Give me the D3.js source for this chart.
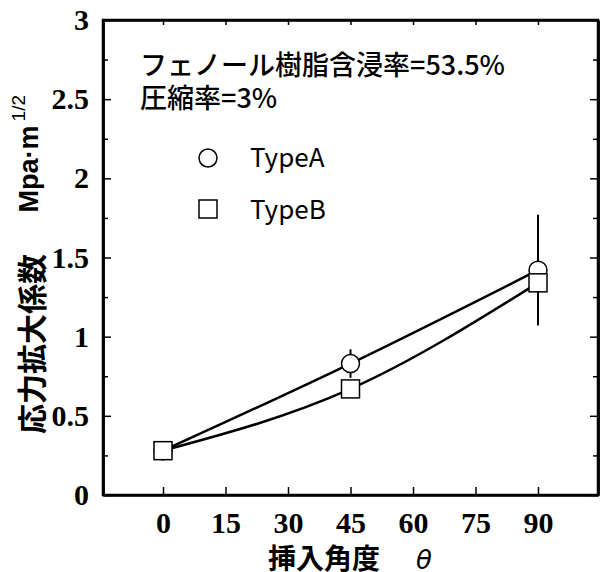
<!DOCTYPE html>
<html>
<head>
<meta charset="utf-8">
<script src="https://cdn.jsdelivr.net/npm/d3@7"></script>
<style>
  body { margin: 0; background: #fff; }
  svg { display: block; }
</style>
</head>
<body>
<script>
// data
var angles = [0, 45, 90];
var typeA = [0.28, 0.83, 1.42];
var typeAErr = [0, 0.09, 0.35];
var typeB = [0.28, 0.67, 1.34];
var xTicks = [0, 15, 30, 45, 60, 75, 90];
var yTicks = [0, 0.5, 1, 1.5, 2, 2.5, 3];
var yMinor = [0.25, 0.75, 1.25, 1.75, 2.25, 2.75];

var W = 602, H = 572;
var mLeft = 103, mRight = 598, mTop = 20, mBottom = 495;

var svg = d3.select('body').append('svg')
    .attr('width', W)
    .attr('height', H);

var x = d3.scaleLinear().domain([-14.4, 104.4]).range([mLeft, mRight]);
var y = d3.scaleLinear().domain([0, 3]).range([mBottom, mTop]);

var serif = '"Liberation Serif", "Times New Roman", serif';
var jp = '"Noto Sans CJK JP", "Noto Sans", sans-serif';

// axes
var g = svg.append('g');
g.append('g')
    .attr('transform', 'translate(0,' + mBottom + ')')
    .call(d3.axisBottom(x).tickValues(xTicks).tickSizeInner(-8).tickSizeOuter(0).tickPadding(17)
        .tickFormat(d3.format('d')));
g.append('g')
    .attr('transform', 'translate(0,' + mTop + ')')
    .call(d3.axisTop(x).tickValues(xTicks).tickSizeInner(-5).tickSizeOuter(0).tickFormat(''));
g.append('g')
    .attr('transform', 'translate(' + mLeft + ',0)')
    .call(d3.axisLeft(y).tickValues(yTicks).tickSizeInner(-8).tickSizeOuter(0).tickPadding(14)
        .tickFormat(function (d) { return d; }));
g.append('g')
    .attr('transform', 'translate(' + mLeft + ',0)')
    .call(d3.axisLeft(y).tickValues(yMinor).tickSizeInner(-5).tickSizeOuter(0).tickFormat(''));
g.append('g')
    .attr('transform', 'translate(' + mRight + ',0)')
    .call(d3.axisRight(y).tickValues(yTicks).tickSizeInner(-8).tickSizeOuter(0).tickFormat(''));
g.append('g')
    .attr('transform', 'translate(' + mRight + ',0)')
    .call(d3.axisRight(y).tickValues(yMinor).tickSizeInner(-5).tickSizeOuter(0).tickFormat(''));

g.selectAll('.domain').attr('stroke', '#000').attr('stroke-width', 2.5);
g.selectAll('.tick line').attr('stroke', '#000').attr('stroke-width', 1.5);
g.selectAll('.tick text')
    .attr('fill', '#000')
    .style('font-family', serif)
    .style('font-weight', 'bold')
    .style('font-size', '30px');

// frame
svg.append('rect')
    .attr('x', mLeft).attr('y', mTop)
    .attr('width', mRight - mLeft).attr('height', mBottom - mTop)
    .attr('fill', 'none').attr('stroke', '#000').attr('stroke-width', 2.5);

// curves
var line = d3.line()
    .x(function (d) { return x(d[0]); })
    .y(function (d) { return y(d[1]); })
    .curve(d3.curveMonotoneX);

[typeA, typeB].forEach(function (s) {
    svg.append('path')
        .datum(angles.map(function (a, i) { return [a, s[i]]; }))
        .attr('d', line)
        .attr('fill', 'none')
        .attr('stroke', '#000')
        .attr('stroke-width', 2.5);
});

// error bars for TypeA
svg.selectAll('.err').data(angles).enter().append('line')
    .attr('class', 'err')
    .attr('x1', function (d) { return x(d); })
    .attr('x2', function (d) { return x(d); })
    .attr('y1', function (d, i) { return y(typeA[i] - typeAErr[i]); })
    .attr('y2', function (d, i) { return y(typeA[i] + typeAErr[i]); })
    .attr('stroke', '#000')
    .attr('stroke-width', 2);

// markers
svg.selectAll('.mA').data(angles).enter().append('circle')
    .attr('class', 'mA')
    .attr('cx', function (d) { return x(d); })
    .attr('cy', function (d, i) { return y(typeA[i]); })
    .attr('r', 9)
    .attr('fill', '#fff')
    .attr('stroke', '#000')
    .attr('stroke-width', 1.5);

svg.selectAll('.mB').data(angles).enter().append('rect')
    .attr('class', 'mB')
    .attr('x', function (d) { return x(d) - 9; })
    .attr('y', function (d, i) { return y(typeB[i]) - 9; })
    .attr('width', 18)
    .attr('height', 18)
    .attr('fill', '#fff')
    .attr('stroke', '#000')
    .attr('stroke-width', 1.5);

// annotations
svg.append('text')
    .attr('x', 140).attr('y', 75)
    .style('font-family', jp).style('font-size', '27px').style('font-weight', '500')
    .text('フェノール樹脂含浸率=53.5%');
svg.append('text')
    .attr('x', 140).attr('y', 108)
    .style('font-family', jp).style('font-size', '27px').style('font-weight', '500')
    .text('圧縮率=3%');

// legend
svg.append('circle')
    .attr('cx', 208).attr('cy', 158).attr('r', 9)
    .attr('fill', '#fff').attr('stroke', '#000').attr('stroke-width', 1.5);
svg.append('text')
    .attr('x', 250).attr('y', 167)
    .style('font-family', jp).style('font-size', '26px')
    .text('TypeA');
svg.append('rect')
    .attr('x', 199).attr('y', 200).attr('width', 18).attr('height', 18)
    .attr('fill', '#fff').attr('stroke', '#000').attr('stroke-width', 1.5);
svg.append('text')
    .attr('x', 250).attr('y', 219)
    .style('font-family', jp).style('font-size', '26px')
    .text('TypeB');

// axis titles
var xt = svg.append('text')
    .attr('x', 268).attr('y', 569)
    .style('font-family', jp).style('font-size', '28px').style('font-weight', 'bold');
xt.append('tspan').text('挿入角度');
xt.append('tspan').attr('x', 416).style('font-style', 'italic').style('font-weight', 'normal')
    .style('font-family', '"DejaVu Sans", sans-serif').style('font-size', '26px').text('θ');

svg.append('text')
    .attr('transform', 'translate(43,434) rotate(-90)')
    .style('font-family', jp).style('font-size', '30px').style('font-weight', 'bold')
    .text('応力拡大係数');

var yt = svg.append('text')
    .attr('transform', 'translate(38,95) rotate(-90)')
    .attr('text-anchor', 'end')
    .style('font-family', '"Liberation Sans", Arial, sans-serif').style('font-size', '27px')
    .style('font-weight', 'bold');
yt.append('tspan').text('Mpa·m');
yt.append('tspan').style('font-size', '19px').style('font-weight', 'normal')
    .attr('dx', 4).attr('dy', -13).text('1/2');
</script>
</body>
</html>
